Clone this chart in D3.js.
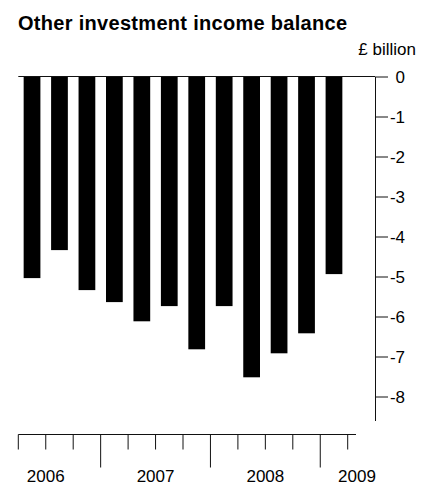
<!DOCTYPE html>
<html>
<head>
<meta charset="utf-8">
<script src="https://cdn.jsdelivr.net/npm/d3@7"></script>
<style>
  body { margin: 0; background: #fff; }
  text { font-family: "Liberation Sans", Arial, sans-serif; fill: #000; }
</style>
</head>
<body>
<svg width="421" height="486"></svg>
<script>
// Data: quarterly balance, 2006 Q2 to 2009 Q1
let quarters = ['2006 Q2', '2006 Q3', '2006 Q4',
                '2007 Q1', '2007 Q2', '2007 Q3', '2007 Q4',
                '2008 Q1', '2008 Q2', '2008 Q3', '2008 Q4',
                '2009 Q1']
let values = [-5.04, -4.34, -5.34, -5.64, -6.12, -5.74, -6.82, -5.74, -7.52, -6.92, -6.42, -4.94]
let years = ['2006', '2007', '2008', '2009']
let yTicks = [0, -1, -2, -3, -4, -5, -6, -7, -8]

let svg = d3.select('svg')

let left = 18.3
let right = 347.7
let axisX = 375
let axisY = 434.5
let lineEnd = 356

let scale = {
    x: d3.scaleBand().domain(quarters).range([left, right]).paddingInner(0.39).paddingOuter(0.195),
    y: d3.scaleLinear().domain([0, -8.6]).range([76.5, 420.5])
}
let step = scale.x.step()
let boundary = q => scale.x(q) - step * scale.x.paddingInner() / 2

// Title
svg.append('text')
    .attr('x', 18)
    .attr('y', 30)
    .attr('font-size', 20)
    .attr('font-weight', 'bold')
    .attr('letter-spacing', 0.3)
    .text('Other investment income balance')

svg.append('text')
    .attr('x', 416)
    .attr('y', 55)
    .attr('font-size', 17)
    .attr('text-anchor', 'end')
    .text('£ billion')

// Bars
svg.append('g')
    .selectAll('rect')
    .data(values)
    .join('rect')
    .attr('x', (d, i) => scale.x(quarters[i]))
    .attr('width', scale.x.bandwidth())
    .attr('y', scale.y(0))
    .attr('height', d => scale.y(d) - scale.y(0))
    .attr('fill', '#000')

// Zero line
svg.append('line')
    .attr('x1', left).attr('x2', axisX)
    .attr('y1', scale.y(0)).attr('y2', scale.y(0))
    .attr('stroke', '#111')

// Y axis on the right
let yAxis = svg.append('g')
    .attr('transform', `translate(${axisX},0)`)
    .call(d3.axisRight(scale.y).tickValues(yTicks).tickSize(13).tickSizeOuter(0).tickFormat(d => d === 0 ? '0' : '-' + Math.abs(d)))
yAxis.select('.domain').attr('stroke', '#111')
yAxis.selectAll('.tick line').attr('stroke', '#111')
yAxis.selectAll('.tick text')
    .attr('x', 30)
    .attr('dy', '0.36em')
    .attr('text-anchor', 'end')
    .attr('font-size', 17)
    .attr('font-family', '"Liberation Sans", Arial, sans-serif')
    .attr('fill', '#000')

// X axis: quarter ticks, longer at year boundaries
let xg = svg.append('g')
xg.append('line')
    .attr('x1', left).attr('x2', lineEnd)
    .attr('y1', axisY).attr('y2', axisY)
    .attr('stroke', '#111')

let tickPos = quarters.map(q => boundary(q)).concat([boundary(quarters[quarters.length - 1]) + step])
let tickQ = quarters.concat(['2009 Q2'])
xg.selectAll('.qtick')
    .data(tickPos)
    .join('line')
    .attr('class', 'qtick')
    .attr('x1', d => d).attr('x2', d => d)
    .attr('y1', axisY)
    .attr('y2', (d, i) => axisY + (tickQ[i].endsWith('Q1') && i > 0 ? 33 : 15))
    .attr('stroke', '#111')

// Year labels, centred on the full year and kept inside the axis
let q1 = quarters.findIndex(q => q.endsWith('Q1'))
xg.selectAll('.year')
    .data(years)
    .join('text')
    .attr('class', 'year')
    .attr('x', (d, i) => Math.min(tickPos[q1] + (i - 1) * 4 * step + 2 * step, lineEnd + 1))
    .attr('y', 482)
    .attr('font-size', 17)
    .attr('text-anchor', 'middle')
    .text(d => d)
</script>
</body>
</html>
